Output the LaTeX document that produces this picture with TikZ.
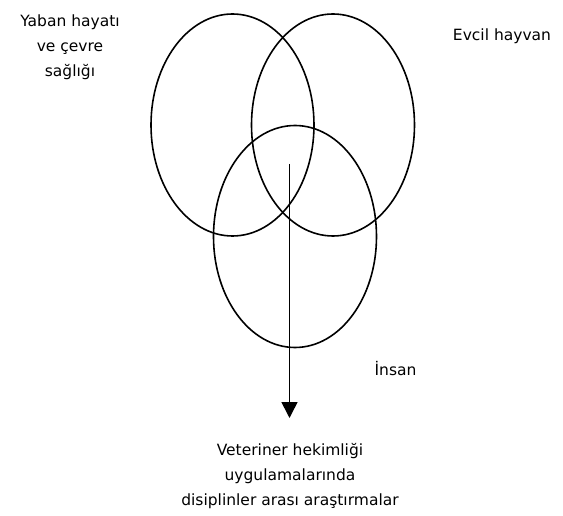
\documentclass[tikz,border=0pt]{standalone}
\usepackage{fontspec}
\setmainfont{DejaVu Sans}
\usetikzlibrary{arrows.meta, shapes.geometric}

\begin{document}
\begin{tikzpicture}[
    x=1pt, y=-1pt,
    % Estilos
    set/.style={ellipse, draw=black, line width=1.6pt, minimum width=163pt, minimum height=222pt, inner sep=0pt},
    label text/.style={font=\fontsize{15.5}{25}\selectfont, align=center, inner sep=0pt},
    flow/.style={-{Triangle[width=16pt, length=16pt]}, line width=1.6pt, black}
]
    \useasboundingbox (0,0) rectangle (563,516);

    % =========================================================================
    % 1. Conjuntos (elipses)
    % =========================================================================
    \node[set] (wild) at (232.5,125) {};
    \node[set] (pet) at (333,125) {};
    \node[set] (human) at (295,236.5) {};

    % =========================================================================
    % 2. Etiquetas
    % =========================================================================
    \node[label text] (wildlabel) at (70,47) {Yaban hayatı\\ve çevre\\sağlığı};
    \node[label text] (petlabel) at (502,36) {Evcil hayvan};
    \node[label text] (humanlabel) at (395.5,369) {İnsan};
    \node[label text] (research) at (290,476) {Veteriner hekimliği\\uygulamalarında\\disiplinler arası araştırmalar};

    % =========================================================================
    % 3. Flecha desde la intersección
    % =========================================================================
    \coordinate (core) at (289.5,164);
    \coordinate (tip) at (289.5,418);
    \draw[flow] (core) -- (tip);

\end{tikzpicture}
\end{document}
